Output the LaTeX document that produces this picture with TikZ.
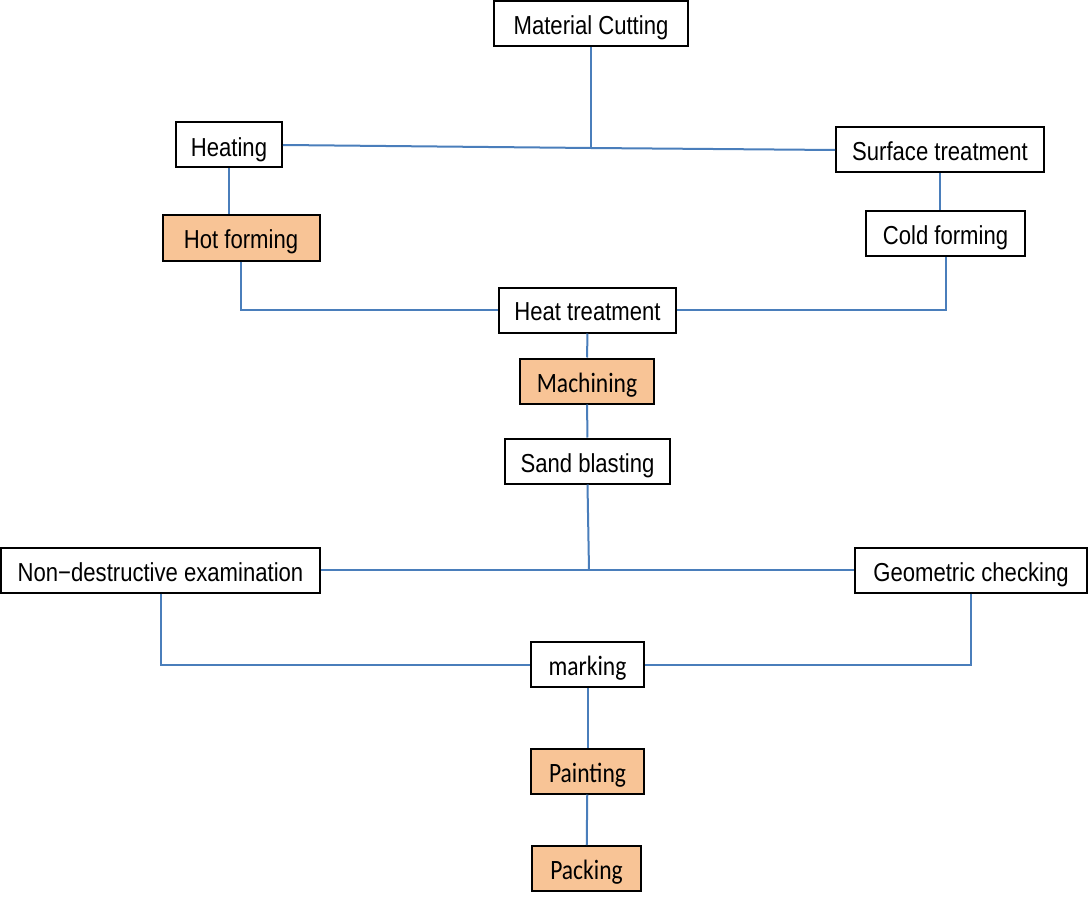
\documentclass[tikz,border=0pt]{standalone}
\usepackage{fontspec}
\usetikzlibrary{positioning}
\newfontfamily\narrowfont[FakeStretch=0.85]{Liberation Sans}
\newfontfamily\calfont[FakeStretch=0.84]{Carlito}
\definecolor{linkblue}{RGB}{74, 126, 187}
\definecolor{stepfill}{RGB}{248, 196, 150}

\begin{document}
\begin{tikzpicture}[x=0.5pt, y=-0.5pt,
  box/.style={draw, line width=1pt, inner sep=0pt, minimum height=22.5pt,
    text height=11pt, text depth=0pt, font=\narrowfont\fontsize{13}{15}\selectfont},
  calbox/.style={box, font=\calfont\fontsize{14}{16}\selectfont},
  hot/.style={calbox, fill=stepfill},
  link/.style={draw=linkblue, line width=1pt}]
  \useasboundingbox (0,0) rectangle (1088,899);

  % first stage
  \node[box, minimum width=97pt] (cutting) at (591,24) {Material Cutting};
  \node[box, minimum width=53pt] (heating) at (229,145) {Heating};
  \node[box, minimum width=104pt] (surface) at (940,150) {Surface treatment};
  \node[box, fill=stepfill, minimum width=78.5pt] (hotform) at (241,238) {Hot forming\hspace{4pt}};
  \node[box, minimum width=79.5pt] (coldform) at (945.5,233.5) {Cold forming};
  \coordinate (split) at (591,148);

  % middle stage
  \node[box, minimum width=88.5pt] (heattreat) at (587.5,310) {Heat treatment};
  \node[hot, minimum width=67pt] (machining) at (587,381) {Machining};
  \node[box, minimum width=82.5pt] (sandblast) at (587.5,461) {Sand blasting};
  \coordinate (check) at (589,570);

  % checks and finish
  \node[box, minimum width=159.5pt] (nde) at (160.5,570) {Non−destructive examination};
  \node[box, minimum width=116pt] (geometric) at (971,570) {Geometric checking};
  \node[calbox, minimum width=56.5pt] (marking) at (587.5,664.5) {marking};
  \node[hot, minimum width=56.5pt] (painting) at (587.5,771) {Painting};
  \node[hot, minimum width=54.5pt] (packing) at (586.5,868.5) {Packing};

  % connectors
  \path[link] (cutting) -- (split);
  \path[link] (heating.east) -- (split) -- (surface.west);
  \path[link] (heating.south) -- (heating.south |- hotform.north);
  \path[link] (surface.south) -- (surface.south |- coldform.north);
  \path[link] (hotform.south) |- (heattreat.west);
  \path[link] (coldform.south) |- (heattreat.east);
  \path[link] (heattreat) -- (machining);
  \path[link] (machining) -- (sandblast);
  \path[link] (sandblast.south) -- (check);
  \path[link] (nde.east) -- (geometric.west);
  \path[link] (nde.south) |- (marking.west);
  \path[link] (geometric.south) |- (marking.east);
  \path[link] (marking) -- (painting);
  \path[link] (painting) -- (packing);
\end{tikzpicture}
\end{document}
